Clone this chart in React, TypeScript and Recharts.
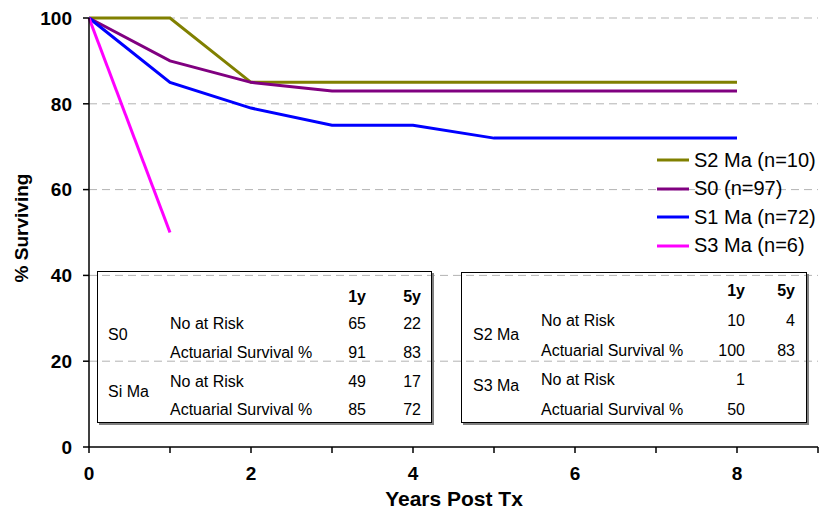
import { LineChart, Line, XAxis, YAxis, CartesianGrid, Legend } from 'recharts';

// survival curves
const years = [0, 1, 2, 3, 4, 5, 6, 7, 8];
const s2Ma = [100, 100, 85, 85, 85, 85, 85, 85, 85];
const s0 = [100, 90, 85, 83, 83, 83, 83, 83, 83];
const s1Ma = [100, 85, 79, 75, 75, 72, 72, 72, 72];
const s3Ma = [100, 50, null, null, null, null, null, null, null];

const seriesKeys = ['s2Ma', 's0', 's1Ma', 's3Ma'];
const seriesNames = ['S2 Ma (n=10)', 'S0 (n=97)', 'S1 Ma (n=72)', 'S3 Ma (n=6)'];
const seriesColors = ['#808000', '#800080', '#0000ff', '#ff00ff'];

const xTicks = [0, 1, 2, 3, 4, 5, 6, 7, 8, 9];
const yTicks = [0, 20, 40, 60, 80, 100];

// at-risk tables
const tableCols = ['1y', '5y'];
const rowLabels = ['No at Risk', 'Actuarial Survival %'];
const leftGroups = ['S0', 'Si Ma'];
const s0AtRisk = [65, 22];
const s0Survival = [91, 83];
const siMaAtRisk = [49, 17];
const siMaSurvival = [85, 72];
const rightGroups = ['S2 Ma', 'S3 Ma'];
const s2MaAtRisk = [10, 4];
const s2MaSurvival = [100, 83];
const s3MaAtRisk = [1, ''];
const s3MaSurvival = [50, ''];

const data = years.map((year, i) => ({
  year,
  s2Ma: s2Ma[i],
  s0: s0[i],
  s1Ma: s1Ma[i],
  s3Ma: s3Ma[i],
}));

const FONT = '"Liberation Sans", Arial, sans-serif';

type TableLayout = {
  left: number;
  top: number;
  width: number;
  height: number;
  rowsY: number[]; // header + 4 rows, centre lines
  groupY: number[];
  groupX: number;
  labelX: number;
  col1R: number;
  col2R: number;
};

const Cell = ({ x, y, text, right, bold }: { x: number; y: number; text: any; right?: boolean; bold?: boolean }) => (
  <div
    style={{
      position: 'absolute',
      top: y - 9,
      lineHeight: '18px',
      fontSize: 16,
      fontWeight: bold ? 'bold' : 'normal',
      whiteSpace: 'nowrap',
      ...(right ? { right: x, textAlign: 'right' } : { left: x }),
    }}
  >
    {text}
  </div>
);

const RiskTable = ({ layout, groups, values }: { layout: TableLayout; groups: string[]; values: any[][] }) => {
  const { left, top, width, height, rowsY, groupY, groupX, labelX, col1R, col2R } = layout;
  return (
    <div
      style={{
        position: 'absolute',
        left,
        top,
        width,
        height,
        border: '1px solid #000',
        boxShadow: '2px 2px 0 #808080',
        boxSizing: 'border-box',
        fontFamily: FONT,
        color: '#000',
      }}
    >
      <Cell x={width - col1R} y={rowsY[0]} text={tableCols[0]} right bold />
      <Cell x={width - col2R} y={rowsY[0]} text={tableCols[1]} right bold />
      {groups.map((g, gi) => (
        <Cell key={g} x={groupX} y={groupY[gi]} text={g} />
      ))}
      {values.map((vals, ri) => (
        <div key={ri}>
          <Cell x={labelX} y={rowsY[ri + 1]} text={rowLabels[ri % 2]} />
          <Cell x={width - col1R} y={rowsY[ri + 1]} text={vals[0]} right />
          <Cell x={width - col2R} y={rowsY[ri + 1]} text={vals[1]} right />
        </div>
      ))}
    </div>
  );
};

const renderLegend = () => (
  <div style={{ fontFamily: FONT, fontSize: 20, color: '#000' }}>
    {seriesNames.map((name, i) => (
      <div key={name} style={{ display: 'flex', alignItems: 'center', height: 28.5 }}>
        <svg width={34} height={6} style={{ marginRight: 4 }}>
          <line x1={1} y1={3} x2={33} y2={3} stroke={seriesColors[i]} strokeWidth={3} />
        </svg>
        <span style={{ whiteSpace: 'nowrap' }}>{name}</span>
      </div>
    ))}
  </div>
);

const YLabel = () => (
  <text
    x={21}
    y={228}
    transform="rotate(-90, 21, 228)"
    textAnchor="middle"
    dominantBaseline="central"
    fontFamily={FONT}
    fontSize={19}
    fontWeight="bold"
    fill="#000"
  >
    % Surviving
  </text>
);

const XLabel = () => (
  <text x={454} y={506} textAnchor="middle" fontFamily={FONT} fontSize={21} fontWeight="bold" fill="#000">
    Years Post Tx
  </text>
);

const tickStyle = { fontFamily: FONT, fontSize: 19, fontWeight: 'bold', fill: '#000' };

export default function App() {
  return (
    <div style={{ position: 'absolute', left: 0, top: 0, width: 822, height: 513, background: '#fff' }}>
      <LineChart width={822} height={513} data={data} margin={{ top: 18, right: 4, left: 0, bottom: 0 }}>
        <CartesianGrid vertical={false} stroke="#b3b3b3" strokeDasharray="8 5" horizontalValues={[20, 40, 60, 80, 100]} />
        <XAxis
          type="number"
          dataKey="year"
          domain={[0, 9]}
          ticks={xTicks}
          tickFormatter={(v: number) => (v % 2 === 0 ? String(v) : '')}
          height={66}
          stroke="#000"
          strokeWidth={1.5}
          tickSize={6}
          tickMargin={14}
          tick={tickStyle}
          label={<XLabel />}
        />
        <YAxis
          type="number"
          domain={[0, 100]}
          ticks={yTicks}
          width={89}
          stroke="#000"
          strokeWidth={1.5}
          tickSize={6}
          tickMargin={11}
          tick={tickStyle}
          label={<YLabel />}
        />
        <Legend
          layout="vertical"
          align="center"
          verticalAlign="middle"
          content={renderLegend}
          wrapperStyle={{ left: 656, top: 146, width: 170 }}
        />
        {seriesKeys.map((key, i) => (
          <Line
            key={key}
            type="linear"
            dataKey={key}
            name={seriesNames[i]}
            stroke={seriesColors[i]}
            strokeWidth={3}
            dot={false}
            activeDot={false}
            isAnimationActive={false}
          />
        ))}
      </LineChart>
      <RiskTable
        layout={{
          left: 97, top: 271, width: 335, height: 152,
          rowsY: [25, 52, 81, 110, 138], groupY: [63, 120],
          groupX: 10, labelX: 72, col1R: 270, col2R: 325,
        }}
        groups={leftGroups}
        values={[s0AtRisk, s0Survival, siMaAtRisk, siMaSurvival]}
      />
      <RiskTable
        layout={{
          left: 461, top: 272, width: 346, height: 151,
          rowsY: [18, 48, 78, 107, 137], groupY: [62, 113],
          groupX: 11, labelX: 79, col1R: 285, col2R: 335,
        }}
        groups={rightGroups}
        values={[s2MaAtRisk, s2MaSurvival, s3MaAtRisk, s3MaSurvival]}
      />
    </div>
  );
}
